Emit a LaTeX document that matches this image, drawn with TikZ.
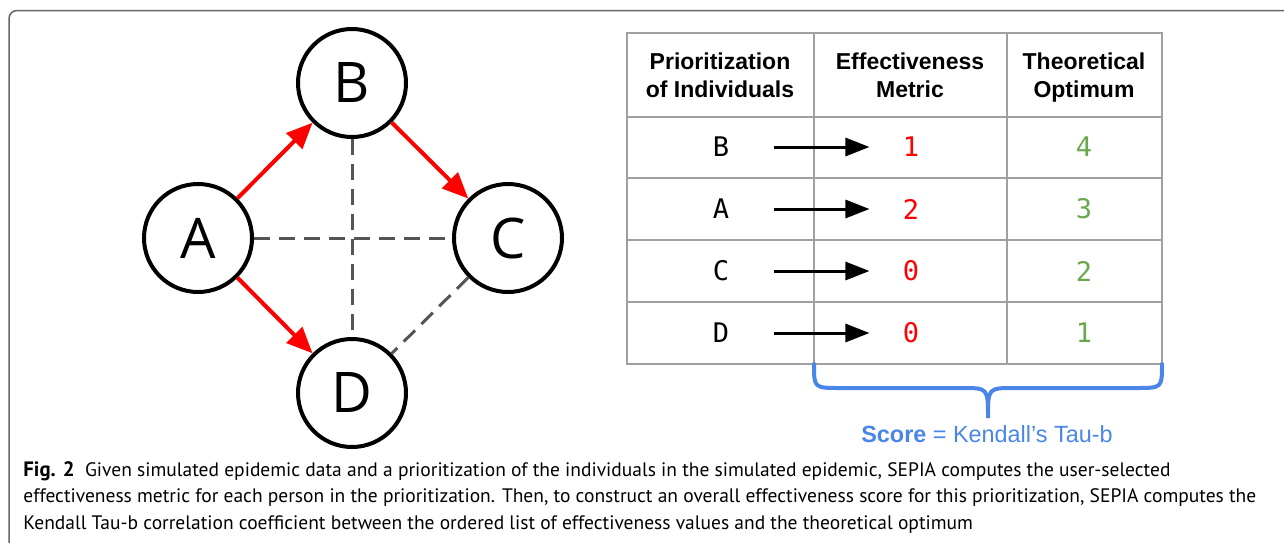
\documentclass[tikz,border=0pt]{standalone}
\usepackage{fontspec}
\setmainfont{Liberation Sans}
\newfontfamily\circfont{Open Sans}
\newfontfamily\cellfont{DejaVu Sans Mono}
\newfontfamily\capfont{PT Sans}
\usetikzlibrary{positioning,arrows.meta}
\definecolor{edgegray}{HTML}{555555}
\definecolor{gridgray}{HTML}{A0A0A0}
\definecolor{framegray}{HTML}{666666}
\definecolor{scoreblue}{HTML}{4A86E8}
\definecolor{optgreen}{HTML}{6AA84F}

\begin{document}
\begin{tikzpicture}[x=0.5pt,y=-0.5pt]

        % Define styles
        \tikzstyle{person} = [circle, draw, line width=2pt, minimum size=54pt, inner sep=0pt, font=\circfont\fontsize{28}{30}\selectfont]
        \tikzstyle{spread} = [-{Triangle[length=13pt,width=11pt]}, red, line width=2pt]
        \tikzstyle{contact} = [edgegray, line width=1.5pt, dash pattern=on 8pt off 4.5pt]
        \tikzstyle{head} = [align=center, text depth=0pt, font=\bfseries\fontsize{11.5}{14}\selectfont]
        \tikzstyle{cell} = [inner sep=0pt, font=\cellfont\fontsize{13.5}{15}\selectfont]
        \tikzstyle{maps} = [-{Triangle[length=12pt,width=9pt]}, line width=1.5pt, shorten <=22pt, shorten >=16.5pt]
        \tikzstyle{grid} = [gridgray, line width=1pt]

        \useasboundingbox (0,0) rectangle (1284,542);
        \fill[white] (0,0) rectangle (1284,542);
        \clip (0,0) rectangle (1284,542);

        % Frame
        \draw[framegray, line width=0.75pt, rounded corners=4pt] (9,10.5) rectangle (1320,580);

        % Individuals
        \node[person] (A) at (198,238) {A};
        \node[person] (B) at (352,83) {B};
        \node[person] (C) at (508,238) {C};
        \node[person] (D) at (352,393) {D};

        % Contacts
        \draw[contact] (A) -- (C);
        \draw[contact] (B) -- (D);
        \draw[contact] (C) -- (D);

        % Infections
        \draw[spread] (A) -- (B);
        \draw[spread] (A) -- (D);
        \draw[spread] (B) -- (C);

        % Table grid
        \draw[grid] (627,33) rectangle (1162,364);
        \foreach \x in {814,1007}
            \draw[grid] (\x,33) -- (\x,364);
        \foreach \y in {117,178,240,302}
            \draw[grid] (627,\y) -- (1162,\y);

        % Header
        \node[head] (hprio) at (720,75) {Prioritization\\of Individuals};
        \node[head] (heff) at (910,75) {Effectiveness\\Metric};
        \node[head] (hopt) at (1084,75) {Theoretical\\Optimum};

        % Rows
        \foreach \p/\e/\o/\y in {B/1/4/147, A/2/3/209, C/0/2/271, D/0/1/333} {
            \node[cell] (p\p) at (721,\y) {\p};
            \node[cell, text=red] (e\p) at (911,\y) {\e};
            \node[cell, text=optgreen] (o\p) at (1084,\y) {\o};
            \draw[maps] (p\p) -- (e\p);
        }

        % Brace and score
        \draw[scoreblue, line width=2pt, line cap=round] (814,364) .. controls (814,388) .. (840,388) -- (962,388)
            .. controls (988,388) .. (988,418) .. controls (988,388) .. (1014,388) -- (1136,388)
            .. controls (1162,388) .. (1162,364);
        \node[text=scoreblue, font=\fontsize{11.7}{13}\selectfont] (score) at (987,434) {\textbf{Score} = Kendall’s Tau-b};

        % Caption
        \node[anchor=north west, align=left, inner sep=0pt, font=\capfont\fontsize{9.75}{13.3}\selectfont] (caption) at (23,461)
            {{\fontsize{10.4}{13.3}\selectfont\textbf{Fig. 2}}\ \ Given simulated epidemic data and a prioritization of the individuals in the simulated epidemic, SEPIA computes the user-selected\\
            effectiveness metric for each person in the prioritization. Then, to construct an overall effectiveness score for this prioritization, SEPIA computes the\\
            Kendall Tau-b correlation coefficient between the ordered list of effectiveness values and the theoretical optimum};

    \end{tikzpicture}
\end{document}
